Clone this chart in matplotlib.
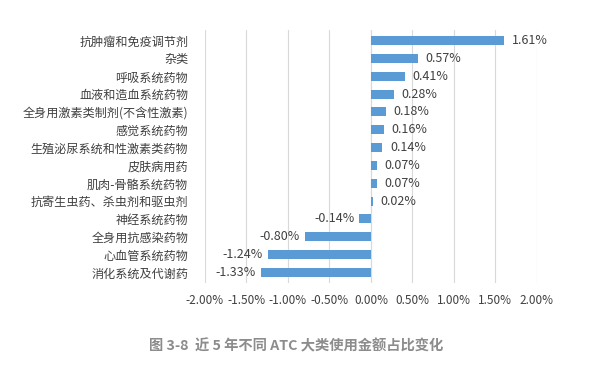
import matplotlib.pyplot as plt
from matplotlib.ticker import FuncFormatter

plt.rcParams['font.family'] = ['Noto Sans CJK SC', 'DejaVu Sans']

categories = ["抗肿瘤和免疫调节剂", "杂类", "呼吸系统药物", "血液和造血系统药物",
              "全身用激素类制剂(不含性激素)", "感觉系统药物", "生殖泌尿系统和性激素类药物",
              "皮肤病用药", "肌肉-骨骼系统药物", "抗寄生虫药、杀虫剂和驱虫剂",
              "神经系统药物", "全身用抗感染药物", "心血管系统药物", "消化系统及代谢药"]
values = [1.61, 0.57, 0.41, 0.28, 0.18, 0.16, 0.14, 0.07, 0.07, 0.02,
          -0.14, -0.80, -1.24, -1.33]
xticks = [-2.0, -1.5, -1.0, -0.5, 0.0, 0.5, 1.0, 1.5, 2.0]
title = "图 3-8  近 5 年不同 ATC 大类使用金额占比变化"

txt = "#404040"
fig = plt.figure(figsize=(6.1, 3.7), dpi=100)
ax = fig.add_axes([0.336, 0.235, 0.544, 0.684])

ypos = list(range(len(categories)))[::-1]
ax.barh(ypos, values, height=0.5, color="#5B9BD5", zorder=3)

for y, v in zip(ypos, values):
    if v >= 0:
        ax.text(v + 0.09, y, f"{v:.2f}%", va="center", ha="left", fontsize=9, color=txt)
    else:
        ax.text(v - 0.06, y, f"{v:.2f}%", va="center", ha="right", fontsize=9, color=txt)

ax.set_xlim(-2.0, 2.0)
ax.set_ylim(-0.6, len(categories) - 0.4)
ax.set_xticks(xticks)
ax.xaxis.set_major_formatter(FuncFormatter(lambda x, p: f"{x:.2f}%"))
ax.set_yticks(ypos)
ax.set_yticklabels(categories)
ax.tick_params(axis="x", length=0, labelsize=8.5, labelcolor=txt, pad=8)
ax.tick_params(axis="y", length=0, labelsize=8.7, labelcolor=txt, pad=12)
ax.grid(axis="x", color="#D9D9D9", lw=0.8, zorder=0)
for s in ax.spines.values():
    s.set_visible(False)
ax.axvline(0, color="#D9D9D9", lw=0.8, zorder=1)

fig.text(0.485, 0.065, title, ha="center", va="center", fontsize=10.3,
         fontweight="bold", color="#8C8C8C")

fig.savefig("out.png", dpi=100)
